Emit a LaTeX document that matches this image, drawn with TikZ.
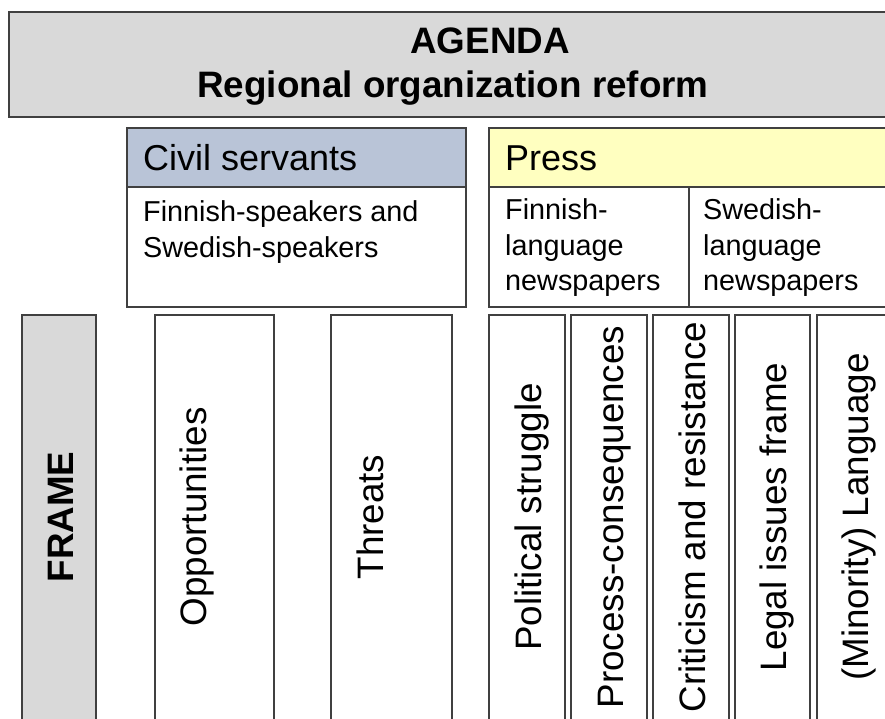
\documentclass[tikz,border=0pt]{standalone}
\usepackage{fontspec}
\setmainfont{Liberation Sans}
\definecolor{boxgray}{HTML}{D9D9D9}
\definecolor{civblue}{HTML}{B9C4D7}
\definecolor{pressyel}{HTML}{FFFFC0}
\definecolor{edgecol}{HTML}{404040}
\begin{document}
\begin{tikzpicture}[x=1pt,y=-1pt,
  box/.style={draw=edgecol, line width=1.3pt, anchor=north west, inner sep=0pt, outer sep=0pt},
  bigtxt/.style={font=\fontsize{36}{43}\selectfont, anchor=base west, inner sep=0pt},
  midtxt/.style={font=\fontsize{28.8}{34}\selectfont, anchor=base west, inner sep=0pt},
  titletxt/.style={font=\bfseries\fontsize{36.8}{43}\selectfont, anchor=base, inner sep=0pt},
  vtxt/.style={font=\fontsize{36.8}{43}\selectfont, rotate=90, anchor=base, inner sep=0pt}]
\useasboundingbox (0,0) rectangle (885,719);
% title
\node[box, fill=boxgray, line width=1.6pt, minimum width=900pt, minimum height=105pt] (agenda) at (9,12) {};
\node[titletxt] (agendat) at (490,54) {AGENDA};
\node[titletxt] (regt) at (453,98) {Regional organization reform};
% civil servants
\node[box, fill=civblue, minimum width=339pt, minimum height=59pt] (civh) at (127,128) {};
\node[box, fill=white, minimum width=339pt, minimum height=120pt] (civb) at (127,187) {};
\node[bigtxt] (civt) at (143,171) {Civil servants};
\node[midtxt] (civl1) at (143,222) {Finnish-speakers and};
\node[midtxt] (civl2) at (143,257) {Swedish-speakers};
% press
\node[box, fill=pressyel, minimum width=420pt, minimum height=59pt] (presh) at (489,128) {};
\node[box, fill=white, minimum width=420pt, minimum height=120pt] (presb) at (489,187) {};
\coordinate (pdivt) at (689,187);
\coordinate (pdivb) at (689,307);
\draw[edgecol, line width=1.3pt] (pdivt) -- (pdivb);
\node[bigtxt] (prest) at (505,171) {Press};
\node[midtxt] (fin1) at (505,220) {Finnish-};
\node[midtxt] (fin2) at (505,255) {language};
\node[midtxt] (fin3) at (505,290) {newspapers};
\node[midtxt] (swe1) at (703,220) {Swedish-};
\node[midtxt] (swe2) at (703,255) {language};
\node[midtxt] (swe3) at (703,290) {newspapers};
% columns
\node[box, fill=boxgray, minimum width=74pt, minimum height=430pt] (framec) at (22,315) {};
\node[vtxt, font=\bfseries\fontsize{36.8}{43}\selectfont] (framet) at (73,517) {FRAME};
\node[box, fill=white, minimum width=119pt, minimum height=430pt] (oppc) at (155,315) {};
\node[vtxt] (oppt) at (206,517) {Opportunities};
\node[box, fill=white, minimum width=121pt, minimum height=430pt] (thrc) at (331,315) {};
\node[vtxt] (thrt) at (383,517) {Threats};
\node[box, fill=white, minimum width=76pt, minimum height=430pt] (polc) at (489,315) {};
\node[vtxt] (polt) at (541,517) {Political struggle};
\node[box, fill=white, minimum width=76pt, minimum height=430pt] (proc) at (571,315) {};
\node[vtxt] (prot) at (623,517) {Process-consequences};
\node[box, fill=white, minimum width=76pt, minimum height=430pt] (cric) at (653,315) {};
\node[vtxt] (crit) at (705,517) {Criticism and resistance};
\node[box, fill=white, minimum width=75pt, minimum height=430pt] (legc) at (735,315) {};
\node[vtxt] (legt) at (786,517) {Legal issues frame};
\node[box, fill=white, minimum width=80pt, minimum height=430pt] (minc) at (817,315) {};
\node[vtxt] (mint) at (868,517) {(Minority) Language};
\end{tikzpicture}
\end{document}
